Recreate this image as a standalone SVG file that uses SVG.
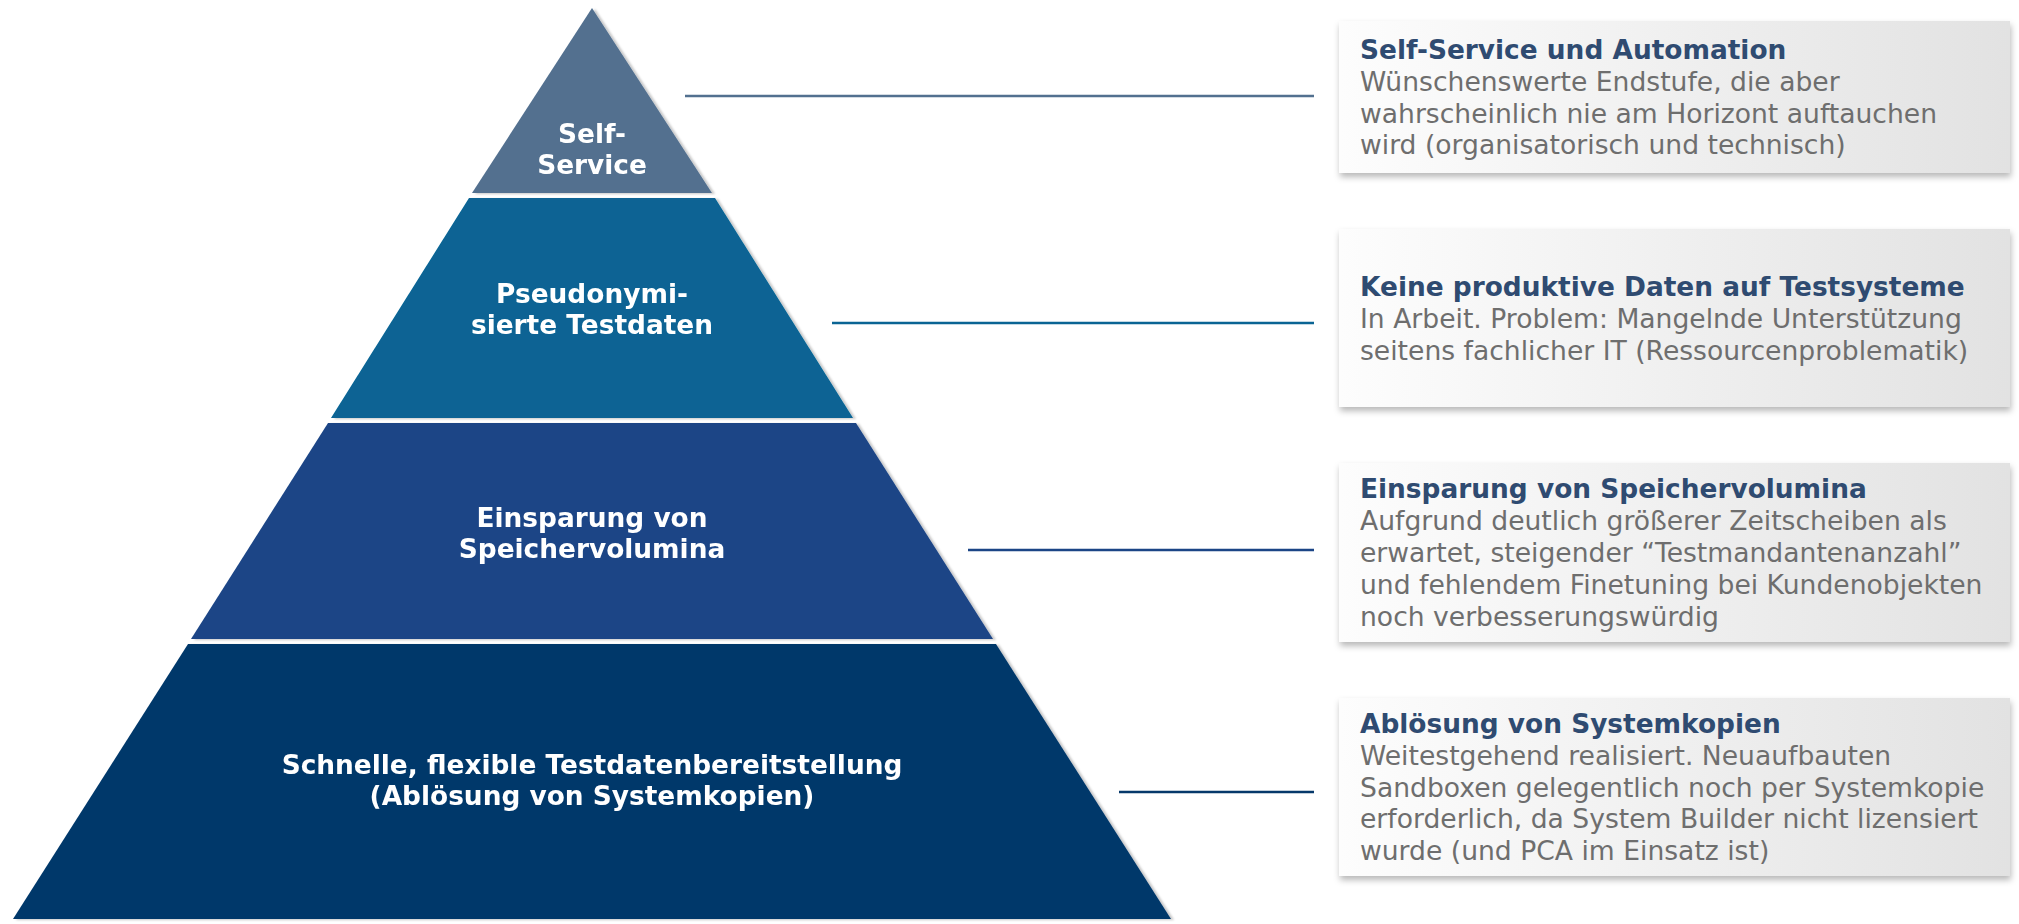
<svg xmlns="http://www.w3.org/2000/svg" width="2019" height="924" viewBox="0 0 2019 924">
<style>
.tier{font-family:"DejaVu Sans",Verdana,sans-serif;font-weight:bold;font-size:26.4px;fill:#ffffff;text-anchor:middle}
.title{font-family:"DejaVu Sans",Verdana,sans-serif;font-weight:bold;font-size:26.4px;fill:#2f4b71}
.body{font-family:"DejaVu Sans",Verdana,sans-serif;font-size:26.6px;fill:#6e6e6e}
.box{fill:url(#boxgrad);filter:url(#boxshadow)}
.conn{stroke-width:2.5;fill:none}
</style>
<defs>
<linearGradient id="boxgrad" x1="0" y1="0" x2="1" y2="0">
<stop offset="0" stop-color="#fdfdfd"/>
<stop offset="1" stop-color="#e2e2e2"/>
</linearGradient>
<filter id="boxshadow" x="-5%" y="-10%" width="110%" height="130%">
<feDropShadow dx="1" dy="4" stdDeviation="3" flood-color="#000" flood-opacity="0.28"/>
</filter>
<filter id="pyrshadow" x="-5%" y="-5%" width="110%" height="110%">
<feDropShadow dx="3" dy="1" stdDeviation="1" flood-color="#000" flood-opacity="0.22"/>
</filter>
</defs>
<rect width="2019" height="924" fill="#ffffff"/>

<g id="connectors">
<line class="conn" x1="685" y1="96" x2="1314" y2="96" stroke="#52708f"/>
<line class="conn" x1="832" y1="323" x2="1314" y2="323" stroke="#0a6494"/>
<line class="conn" x1="968" y1="550" x2="1314" y2="550" stroke="#1b4586"/>
<line class="conn" x1="1119" y1="792" x2="1314" y2="792" stroke="#06386a"/>
</g>

<g id="tier-selfservice" filter="url(#pyrshadow)">
<polygon points="592,8 712,193 472,193" fill="#52708f"/>
<text class="tier" x="592" y="143">Self-</text>
<text class="tier" x="592" y="174">Service</text>
</g>
<g id="tier-pseudo" filter="url(#pyrshadow)">
<polygon points="469,198 715,198 853,418 331,418" fill="#076494"/>
<text class="tier" x="592" y="303">Pseudonymi-</text>
<text class="tier" x="592" y="334">sierte Testdaten</text>
</g>
<g id="tier-speicher" filter="url(#pyrshadow)">
<polygon points="328,423 856,423 993,639 191,639" fill="#1b4586"/>
<text class="tier" x="592" y="527">Einsparung von</text>
<text class="tier" x="592" y="558">Speichervolumina</text>
</g>
<g id="tier-testdaten" filter="url(#pyrshadow)">
<polygon points="188,644 996,644 1171,919 13,919" fill="#05386a"/>
<text class="tier" x="592" y="774">Schnelle, flexible Testdatenbereitstellung</text>
<text class="tier" x="592" y="805">(Ablösung von Systemkopien)</text>
</g>

<g id="box-selfservice">
<rect class="box" x="1339" y="21" width="671" height="152"/>
<text class="title" x="1360" y="59">Self-Service und Automation</text>
<text class="body" x="1360" y="91">Wünschenswerte Endstufe, die aber</text>
<text class="body" x="1360" y="123">wahrscheinlich nie am Horizont auftauchen</text>
<text class="body" x="1360" y="154">wird (organisatorisch und technisch)</text>
</g>
<g id="box-pseudo">
<rect class="box" x="1339" y="229" width="671" height="178"/>
<text class="title" x="1360" y="296">Keine produktive Daten auf Testsysteme</text>
<text class="body" x="1360" y="328">In Arbeit. Problem: Mangelnde Unterstützung</text>
<text class="body" x="1360" y="360">seitens fachlicher IT (Ressourcenproblematik)</text>
</g>
<g id="box-speicher">
<rect class="box" x="1339" y="463" width="671" height="179"/>
<text class="title" x="1360" y="498">Einsparung von Speichervolumina</text>
<text class="body" x="1360" y="530">Aufgrund deutlich größerer Zeitscheiben als</text>
<text class="body" x="1360" y="562">erwartet, steigender “Testmandantenanzahl”</text>
<text class="body" x="1360" y="594">und fehlendem Finetuning bei Kundenobjekten</text>
<text class="body" x="1360" y="626">noch verbesserungswürdig</text>
</g>
<g id="box-systemkopien">
<rect class="box" x="1339" y="698" width="671" height="178"/>
<text class="title" x="1360" y="733">Ablösung von Systemkopien</text>
<text class="body" x="1360" y="765">Weitestgehend realisiert. Neuaufbauten</text>
<text class="body" x="1360" y="797">Sandboxen gelegentlich noch per Systemkopie</text>
<text class="body" x="1360" y="828">erforderlich, da System Builder nicht lizensiert</text>
<text class="body" x="1360" y="860">wurde (und PCA im Einsatz ist)</text>
</g>
</svg>
